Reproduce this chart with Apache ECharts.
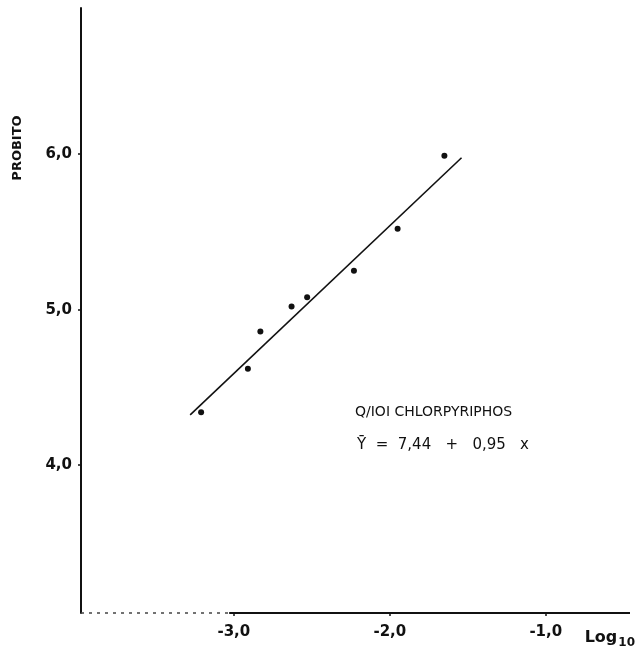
<!DOCTYPE html>
<html>
<head>
<meta charset="utf-8">
<script src="https://cdn.jsdelivr.net/npm/echarts@6/dist/echarts.min.js"></script>
<style>
  html, body { margin: 0; padding: 0; background: #fff; }
  #chart { width: 638px; height: 654px; }
</style>
</head>
<body>
<div id="chart"></div>
<script>
// Observed probits against log10 concentration
const logDose = [-3.21, -2.91, -2.83, -2.63, -2.53, -2.23, -1.95, -1.65];
const probit  = [4.34, 4.62, 4.86, 5.02, 5.08, 5.25, 5.52, 5.99];

// Regression Y = 7.44 + 0.95 x, drawn over this x span
const intercept = 7.44;
const slope = 0.95;
const fitRange = [-3.28, -1.54];

// Axis extents and tick positions
const xRange = [-3.98, -0.46];
const yRange = [3.05, 6.94];
const xTicks = [-3, -2, -1];
const yTicks = [4, 5, 6];
// the baseline is faint/dotted left of this value, solid to the right
const baselineBreak = -3.03;

const INK = '#111';
const FONT = 'DejaVu Sans';
const comma = v => v.toFixed(1).replace('.', ',');

const points = logDose.map((x, i) => [x, probit[i]]);
const fitLine = fitRange.map(x => [x, intercept + slope * x]);

const chart = echarts.init(document.getElementById('chart'), null, { renderer: 'canvas' });

chart.setOption({
  backgroundColor: '#fff',
  animation: false,
  grid: { left: 81, right: 6, top: 8, bottom: 41, containLabel: false },
  xAxis: {
    type: 'value',
    min: xRange[0],
    max: xRange[1],
    splitLine: { show: false },
    axisLine: { show: false },
    axisTick: {
      show: true, customValues: xTicks, length: 3,
      lineStyle: { color: INK, width: 1.5 }
    },
    axisLabel: {
      customValues: xTicks,
      formatter: v => comma(v),
      margin: 12,
      color: INK,
      fontFamily: FONT,
      fontWeight: 'bold',
      fontSize: 15
    },
    name: '{l|Log}{s|10}',
    nameLocation: 'end',
    nameGap: 5,
    nameTextStyle: {
      align: 'right',
      verticalAlign: 'top',
      padding: [14, 0, 0, 0],
      rich: {
        l: { fontFamily: FONT, fontWeight: 'bold', fontSize: 16, color: INK },
        s: { fontFamily: FONT, fontWeight: 'bold', fontSize: 12, color: INK, padding: [10, 0, 0, 1] }
      }
    }
  },
  yAxis: {
    type: 'value',
    min: yRange[0],
    max: yRange[1],
    splitLine: { show: false },
    axisLine: { show: true, onZero: false, lineStyle: { color: INK, width: 2 } },
    axisTick: {
      show: true, customValues: yTicks, length: 3,
      lineStyle: { color: INK, width: 1.5 }
    },
    axisLabel: {
      customValues: yTicks,
      formatter: v => comma(v),
      margin: 9,
      color: INK,
      fontFamily: FONT,
      fontWeight: 'bold',
      fontSize: 15
    }
  },
  series: [
    {
      name: 'baseline-faint',
      type: 'line',
      data: [[xRange[0], yRange[0]], [baselineBreak, yRange[0]]],
      symbol: 'none',
      clip: false,
      lineStyle: { color: '#444', width: 1.5, type: [3, 5] },
      silent: true
    },
    {
      name: 'baseline',
      type: 'line',
      data: [[baselineBreak, yRange[0]], [xRange[1], yRange[0]]],
      symbol: 'none',
      clip: false,
      lineStyle: { color: INK, width: 2 },
      silent: true
    },
    {
      name: 'fit',
      type: 'line',
      data: fitLine,
      symbol: 'none',
      lineStyle: { color: INK, width: 1.6 },
      silent: true
    },
    {
      name: 'observed',
      type: 'scatter',
      data: points,
      symbol: 'circle',
      symbolSize: 6,
      itemStyle: { color: INK, opacity: 1 },
      silent: true
    }
  ],
  graphic: [
    {
      type: 'text',
      x: 18, y: 148,
      rotation: Math.PI / 2,
      style: {
        text: 'PROBITO',
        font: 'bold 13px "DejaVu Sans"',
        fill: INK,
        align: 'center',
        verticalAlign: 'middle'
      }
    },
    {
      type: 'text',
      x: 355, y: 412,
      style: {
        text: 'Q/IOI CHLORPYRIPHOS',
        font: '14px "DejaVu Sans"',
        fill: INK,
        align: 'left',
        verticalAlign: 'middle'
      }
    },
    {
      type: 'text',
      x: 357, y: 445,
      style: {
        text: 'Ȳ  =  7,44   +   0,95   x',
        font: '15px "DejaVu Sans"',
        fill: INK,
        align: 'left',
        verticalAlign: 'middle'
      }
    }
  ]
});
</script>
</body>
</html>
